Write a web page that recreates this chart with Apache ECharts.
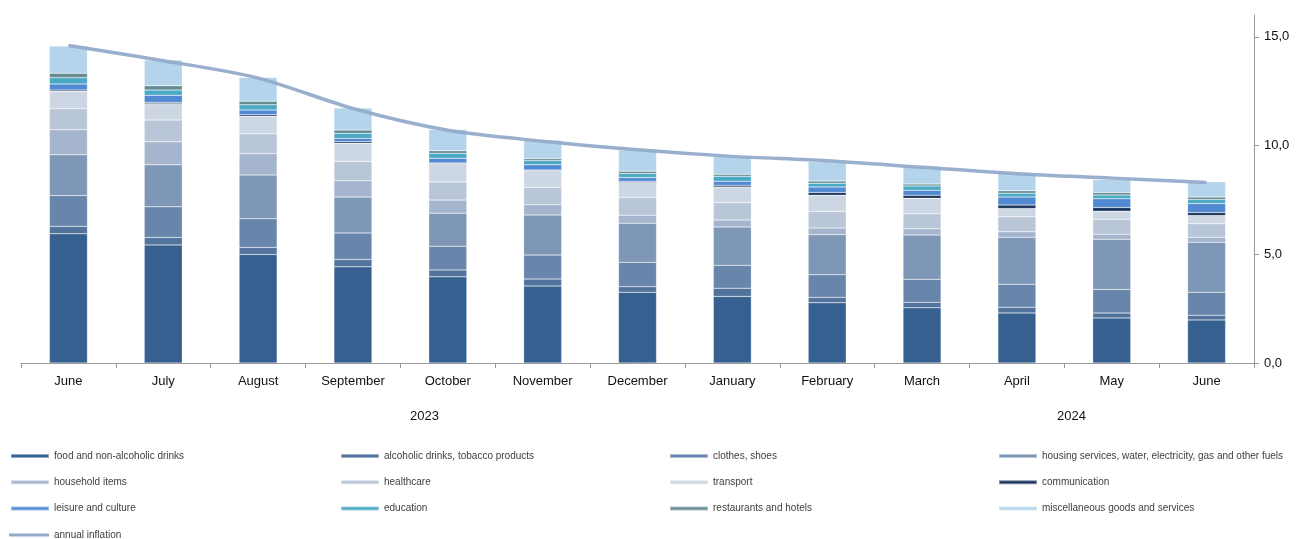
<!DOCTYPE html>
<html>
<head>
<meta charset="utf-8">
<script src="https://cdn.jsdelivr.net/npm/echarts@6/dist/echarts.min.js"></script>
<style>
html,body{margin:0;padding:0;background:#fff;}
#chart{width:1301px;height:539px;}
</style>
</head>
<body>
<div id="chart"></div>
<script>
const categories = ['June','July','August','September','October','November','December','January','February','March','April','May','June'];
const yearLabels = ['2023','2024'];
const yTicks = [0,5,10,15];

const food = [5.94,5.43,4.99,4.42,3.96,3.54,3.25,3.06,2.77,2.54,2.30,2.07,1.98];
const alcohol = [0.34,0.34,0.32,0.34,0.32,0.32,0.26,0.38,0.25,0.25,0.26,0.23,0.22];
const clothes = [1.42,1.41,1.32,1.22,1.09,1.10,1.12,1.05,1.04,1.06,1.06,1.08,1.05];
const housing = [1.87,1.93,2.01,1.65,1.52,1.84,1.80,1.76,1.84,2.03,2.16,2.31,2.30];
const household = [1.15,1.06,0.98,0.75,0.60,0.48,0.36,0.32,0.31,0.29,0.25,0.23,0.23];
const healthcare = [0.97,1.00,0.92,0.89,0.83,0.79,0.83,0.80,0.75,0.69,0.69,0.69,0.62];
const transport = [0.80,0.75,0.80,0.83,0.84,0.77,0.68,0.72,0.75,0.71,0.38,0.37,0.38];
const communication = [0.06,0.06,0.07,0.07,0.04,0.03,0.05,0.08,0.13,0.14,0.16,0.17,0.14];
const leisure = [0.28,0.33,0.22,0.16,0.21,0.24,0.18,0.19,0.25,0.23,0.37,0.40,0.41];
const education = [0.29,0.24,0.24,0.23,0.23,0.20,0.18,0.23,0.18,0.20,0.18,0.17,0.19];
const restaurants = [0.20,0.20,0.17,0.15,0.12,0.09,0.11,0.09,0.10,0.09,0.11,0.12,0.11];
const misc = [1.25,1.18,1.09,1.01,0.98,0.84,0.97,0.82,0.88,0.80,0.80,0.60,0.70];
const inflation = [14.6,13.9,13.1,11.7,10.7,10.2,9.8,9.5,9.3,9.0,8.7,8.5,8.3];

const barSeriesDefs = [
  ['food and non-alcoholic drinks', food, '#36608f'],
  ['alcoholic drinks, tobacco products', alcohol, '#52739c'],
  ['clothes, shoes', clothes, '#6886ab'],
  ['housing services, water, electricity, gas and other fuels', housing, '#7e97b6'],
  ['household items', household, '#a4b5cd'],
  ['healthcare', healthcare, '#b9c6d8'],
  ['transport', transport, '#cdd7e3'],
  ['communication', communication, '#1b365d'],
  ['leisure and culture', leisure, '#518ad2'],
  ['education', education, '#4aa9c4'],
  ['restaurants and hotels', restaurants, '#668c93'],
  ['miscellaneous goods and services', misc, '#b4d4eb']
];
const lineName = 'annual inflation';
const lineColor = '#93abca';

const FONT = '"Liberation Sans", Arial, sans-serif';

const series = barSeriesDefs.map(([name, data, color]) => ({
  name: name,
  type: 'bar',
  stack: 'total',
  data: data,
  barWidth: 38,
  itemStyle: {color: color, borderColor: 'rgba(255,255,255,0.45)', borderWidth: 0.5},
  emphasis: {disabled: true}
}));
series.push({
  name: lineName,
  type: 'line',
  data: inflation,
  smooth: 0.3,
  symbol: 'none',
  lineStyle: {color: lineColor, width: 3.5, opacity: 0.95},
  itemStyle: {color: lineColor},
  z: 5
});

const cols = [
  [barSeriesDefs[0][0], barSeriesDefs[4][0], barSeriesDefs[8][0]],
  [barSeriesDefs[1][0], barSeriesDefs[5][0], barSeriesDefs[9][0]],
  [barSeriesDefs[2][0], barSeriesDefs[6][0], barSeriesDefs[10][0]],
  [barSeriesDefs[3][0], barSeriesDefs[7][0], barSeriesDefs[11][0]],
  [lineName]
];
const colLeft = [10, 340, 669, 998, 9];
const colTop = [451, 451, 451, 451, 530];
const legends = cols.map((names, i) => ({
  orient: 'vertical',
  left: colLeft[i],
  top: colTop[i],
  padding: 0,
  itemWidth: i === 4 ? 40 : 38,
  itemHeight: i === 4 ? 3 : 4,
  itemGap: 16.3,
  icon: 'rect',
  selectedMode: false,
  textStyle: {fontFamily: FONT, fontSize: 10, color: '#404040'},
  data: names
}));

const chart = echarts.init(document.getElementById('chart'), null, {renderer: 'canvas'});
chart.setOption({
  animation: false,
  backgroundColor: '#fff',
  grid: {left: 21, right: 47, top: 15, bottom: 176, containLabel: false},
  legend: legends,
  xAxis: {
    type: 'category',
    data: categories,
    boundaryGap: true,
    axisLine: {lineStyle: {color: '#999', width: 1}},
    axisTick: {show: true, length: 5, lineStyle: {color: '#999'}},
    axisLabel: {fontFamily: FONT, fontSize: 13, color: '#111', margin: 12, interval: 0}
  },
  yAxis: {
    type: 'value',
    position: 'right',
    min: 0,
    max: 16,
    interval: 5,
    splitLine: {show: false},
    axisLine: {show: true, lineStyle: {color: '#999', width: 1}},
    axisTick: {show: true, length: 5, lineStyle: {color: '#999'}, customValues: yTicks},
    axisLabel: {
      fontFamily: FONT, fontSize: 13, color: '#111', margin: 10,
      customValues: yTicks,
      formatter: v => v.toFixed(1).replace('.', ',')
    }
  },
  graphic: [
    {type: 'text', left: 424 - 14, top: 410, style: {text: yearLabels[0], font: '13px ' + FONT, fill: '#111'}},
    {type: 'text', left: 1071 - 14, top: 410, style: {text: yearLabels[1], font: '13px ' + FONT, fill: '#111'}}
  ],
  series: series
});
</script>
</body>
</html>
